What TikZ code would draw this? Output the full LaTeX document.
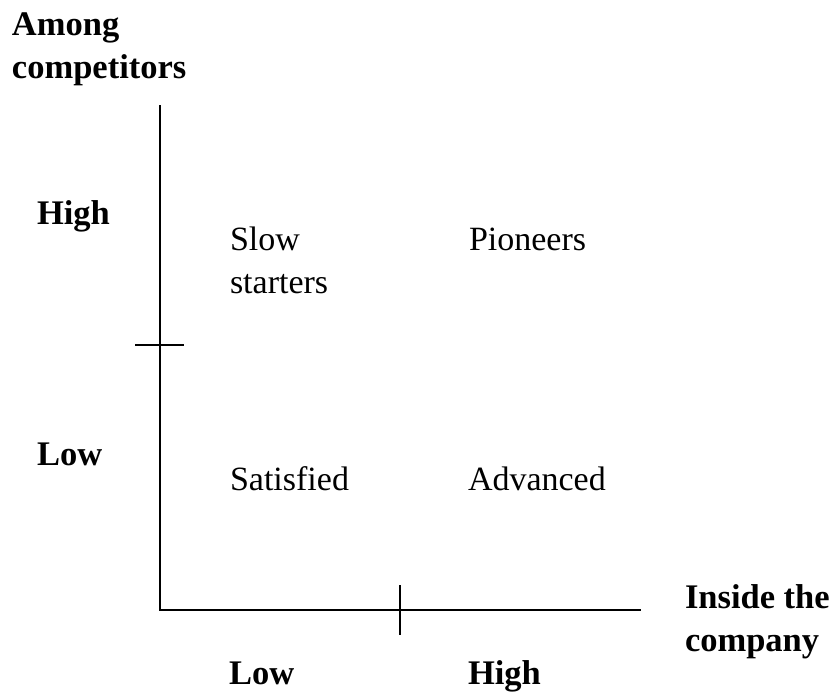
\documentclass[tikz,border=0pt]{standalone}
\usepackage{fontspec}
\setmainfont{Liberation Serif}
\usetikzlibrary{positioning,calc}

\begin{document}
\begin{tikzpicture}[x=1pt,y=-1pt,
        every node/.style={inner sep=0pt,outer sep=0pt,align=left,font=\fontsize{34}{43}\selectfont},
        axislbl/.style={anchor=base west,font=\fontsize{34.5}{43}\selectfont\bfseries},
        quad/.style={anchor=base west},
        axis/.style={line width=1.6pt}]
   \useasboundingbox (0,0) rectangle (832,691);
   % axes
   \coordinate (O) at (160,610);
   \coordinate (Ytop) at (160,105);
   \coordinate (Xend) at (641,610);
   \coordinate (Yl) at (135,345);
   \coordinate (Yr) at (184,345);
   \coordinate (Xt) at (400,585);
   \coordinate (Xb) at (400,635);
   \draw[axis] (Ytop) -- (O) -- (Xend);
   \draw[axis] (Yl) -- (Yr);
   \draw[axis] (Xt) -- (Xb);
   % axis labels (base = last line)
   \node (ylab) [axislbl] at (12,78) {Among\\competitors};
   \node (yhigh) [axislbl] at (37,224) {High};
   \node (ylow) [axislbl] at (37,465) {Low};
   \node (xlab) [axislbl] at (685,651) {Inside the\\company};
   \node (xlow) [axislbl] at (229,684) {Low};
   \node (xhigh) [axislbl] at (468,684) {High};
   % quadrants
   \node (slow) [quad] at (230,293) {Slow\\starters};
   \node (pion) [quad] at (469,250) {Pioneers};
   \node (sat) [quad] at (230,490) {Satisfied};
   \node (adv) [quad] at (468,490) {Advanced};
\end{tikzpicture}
\end{document}
